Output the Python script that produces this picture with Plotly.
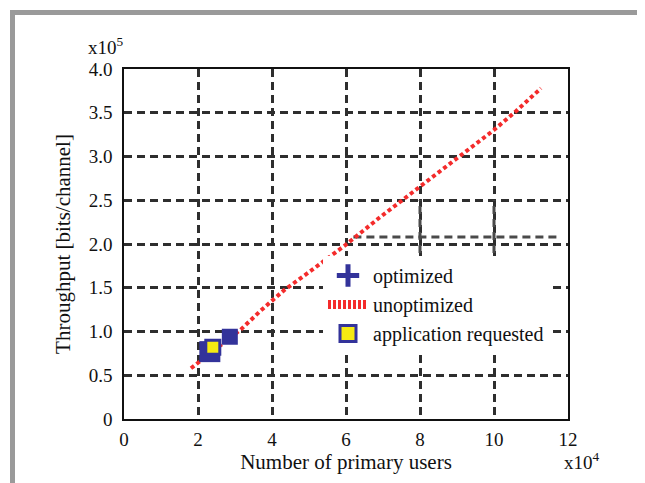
import plotly.graph_objects as go

# ---- data (x in 1e4 users, y in 1e5 bits/channel) ----
unopt_x = [1.81, 2.4, 3.15, 3.7, 4.32, 5.1, 5.99, 6.9, 7.77, 8.9, 9.99, 10.6, 11.27]
unopt_y = [0.58, 0.78, 1.02, 1.24, 1.47, 1.71, 1.99, 2.30, 2.58, 2.95, 3.30, 3.52, 3.78]

opt_x = [2.32, 2.86]
opt_y = [0.77, 0.94]
opt_size = [21, 16]

app_x = [2.40]
app_y = [0.82]

guide_h_x = [6.2, 11.8]
guide_h_y = [2.08, 2.08]
guide_v8_x = [8, 8]
guide_v10_x = [10, 10]
guide_v_y = [1.75, 2.5]

x_ticks = [0, 2, 4, 6, 8, 10, 12]
x_tick_text = ["0", "2", "4", "6", "8", "10", "12"]
y_ticks = [0, 0.5, 1.0, 1.5, 2.0, 2.5, 3.0, 3.5, 4.0]
y_tick_text = ["0", "0.5", "1.0", "1.5", "2.0", "2.5", "3.0", "3.5", "4.0"]

FONT = "Liberation Serif"
BLUE = "#33339a"
RED = "#f42b2b"
GRID = "#2e2e2e"

fig = go.Figure()

# guide dashed lines
for gx, gy in [(guide_h_x, guide_h_y), (guide_v8_x, guide_v_y), (guide_v10_x, guide_v_y)]:
    fig.add_trace(go.Scatter(x=gx, y=gy, mode="lines", showlegend=False, hoverinfo="skip",
                             line=dict(color="#4a4a4a", width=3, dash="8px,5px")))

# unoptimized dotted line
fig.add_trace(go.Scatter(x=unopt_x, y=unopt_y, mode="lines", name="unoptimized", showlegend=False,
                         line=dict(color=RED, width=4, dash="4px,3px")))

# optimized points
fig.add_trace(go.Scatter(x=opt_x, y=opt_y, mode="markers", name="optimized", showlegend=False,
                         marker=dict(symbol="square", size=opt_size, color=BLUE, opacity=1,
                                     line=dict(width=0))))

# application requested
fig.add_trace(go.Scatter(x=app_x, y=app_y, mode="markers", name="application requested",
                         showlegend=False,
                         marker=dict(symbol="square", size=14, color="#f5ea12", opacity=1,
                                     line=dict(color=BLUE, width=3))))

# legend entries
fig.add_trace(go.Scatter(x=[None], y=[None], mode="markers", name="optimized",
                         marker=dict(symbol="cross-thin", size=20, color=BLUE,
                                     line=dict(color=BLUE, width=5))))
fig.add_trace(go.Scatter(x=[None], y=[None], mode="lines", name="unoptimized",
                         line=dict(color=RED, width=9, dash="3px,2px")))
fig.add_trace(go.Scatter(x=[None], y=[None], mode="markers", name="application requested",
                         marker=dict(symbol="square", size=17, color="#f5ea12",
                                     line=dict(color=BLUE, width=3))))

axis_common = dict(
    showline=True, linecolor="#111", linewidth=1.5, mirror=True,
    showgrid=True, gridcolor=GRID, gridwidth=3, griddash="8px,5px",
    zeroline=False, ticks="outside", tickcolor="rgba(0,0,0,0)",
    tickfont=dict(family=FONT, size=19, color="#111"), automargin=False,
)

fig.update_xaxes(range=[0, 12], tickvals=x_ticks, ticktext=x_tick_text, ticklen=2,
                 title=dict(text="Number of primary users", font=dict(family=FONT, size=21, color="#111"),
                            standoff=0), **axis_common)
fig.update_yaxes(range=[0, 4.0], tickvals=y_ticks, ticktext=y_tick_text, ticklen=6,
                 title=dict(text="Throughput [bits/channel]", font=dict(family=FONT, size=21, color="#111"),
                            standoff=12), **axis_common)

# page has an 8px body margin; figure coords = screen coords - 8
OFF = 8
W, H = 637, 475
L, T = 124 - OFF, 69 - OFF
pw, ph = 444, 350
R, B = W - L - pw, H - T - ph

def px_x(p):
    return (p - OFF - L) / pw

def px_y(p):
    return (T + ph - (p - OFF)) / ph

shapes = [
    dict(type="rect", xref="paper", yref="paper", x0=px_x(10), x1=px_x(15), y0=px_y(500), y1=px_y(10),
         fillcolor="#9a9a9a", line=dict(width=0), layer="above"),
    dict(type="rect", xref="paper", yref="paper", x0=px_x(10), x1=px_x(650), y0=px_y(15), y1=px_y(10),
         fillcolor="#9a9a9a", line=dict(width=0), layer="above"),
    dict(type="rect", xref="paper", yref="paper", x0=px_x(640), x1=px_x(650), y0=px_y(500), y1=px_y(10),
         fillcolor="#9a9a9a", line=dict(width=0), layer="above"),
]

annotations = [
    dict(text="x10<sup>5</sup>", xref="paper", yref="paper", x=px_x(86), y=px_y(46),
         xanchor="left", yanchor="middle", showarrow=False, font=dict(family=FONT, size=19, color="#111")),
    dict(text="x10<sup>4</sup>", xref="paper", yref="paper", x=px_x(562), y=px_y(461),
         xanchor="left", yanchor="middle", showarrow=False, font=dict(family=FONT, size=19, color="#111")),
]

fig.update_layout(
    width=W, height=H,
    margin=dict(l=L, r=R, t=T, b=B, autoexpand=False),
    paper_bgcolor="white", plot_bgcolor="white",
    font=dict(family=FONT, color="#111"),
    shapes=shapes, annotations=annotations,
    legend=dict(x=px_x(323), y=px_y(256), xanchor="left", yanchor="top",
                bgcolor="white", borderwidth=0, font=dict(family=FONT, size=20, color="#111"),
                itemwidth=40, tracegroupgap=0),
)

fig.write_html("out.html")
